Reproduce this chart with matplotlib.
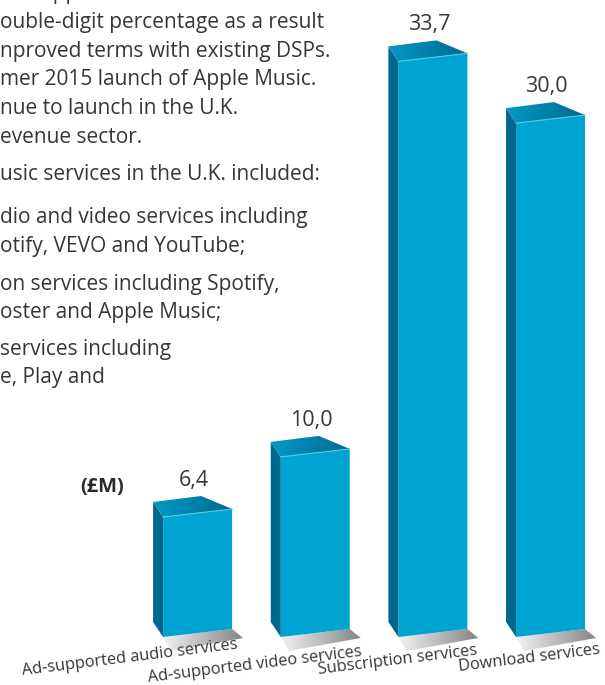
import math
import numpy as np
import matplotlib
matplotlib.use("Agg")
import matplotlib.pyplot as plt
from matplotlib.patches import Polygon
from matplotlib.transforms import Affine2D

categories = ["Ad-supported audio services", "Ad-supported video services",
              "Subscription services", "Download services"]
values = [6.4, 10.0, 33.7, 30.0]
value_labels = ["6,4", "10,0", "33,7", "30,0"]
unit_label = "(£M)"

text_lines = [
    "ouble-digit percentage as a result",
    "nproved terms with existing DSPs.",
    "mer 2015 launch of Apple Music.",
    "nue to launch in the U.K.",
    "evenue sector.",
    "usic services in the U.K. included:",
    "dio and video services including",
    "otify, VEVO and YouTube;",
    "on services including Spotify,",
    "oster and Apple Music;",
    "services including",
    "e, Play and",
]
line_baselines = [28, 57, 85, 114, 143, 180, 223, 252, 290, 318, 355, 383]

W, H = 605, 685
FONT = ["Open Sans", "DejaVu Sans"]
TXT = "#363636"
FRONT = "#00a4d1"
SIDE = "#00688c"
TOP_L = "#0098c6"
TOP_R = "#006b8f"

# pixel scale of the chart area
PX_X = 117.65          # pixels per category step
PX_Y = 16.69           # pixels per £M
X0 = 197.6             # pixel of first bar centre
FLOOR = -0.79          # floor level of the bars (perspective base)
BASE_PX = 48           # floor pixel from bottom of figure
BAR_W = 69 / PX_X
K = 0.116 * PX_X / PX_Y  # front face slope in data units

fig = plt.figure(figsize=(W / 100, H / 100), dpi=100)
ax = fig.add_axes([0, 0, 1, 1])
ax.axis("off")
xlim = (-X0 / PX_X, (W - X0) / PX_X)
y0 = FLOOR - BASE_PX / PX_Y
ylim = (y0, y0 + H / PX_Y)


def px(dx, dy):
    return dx / PX_X, dy / PX_Y


def gradient_fill(poly, c1, c2, z):
    xs = [p[0] for p in poly]
    ys = [p[1] for p in poly]
    cmap = matplotlib.colors.LinearSegmentedColormap.from_list("g", [c1, c2])
    grad = np.linspace(0, 1, 64).reshape(1, -1)
    im = ax.imshow(grad, cmap=cmap, extent=(min(xs), max(xs), min(ys), max(ys)),
                   aspect="auto", zorder=z, interpolation="bilinear")
    patch = Polygon(poly, closed=True, facecolor="none", edgecolor="none")
    ax.add_patch(patch)
    im.set_clip_path(patch)


x = np.arange(len(values))
bars = ax.bar(x, [v - FLOOR for v in values], BAR_W, bottom=FLOOR,
              color=FRONT, linewidth=0, zorder=3)

for xi, v, bar, lab in zip(x, values, bars, value_labels):
    xl = bar.get_x()
    xr = xl + BAR_W
    tilt = Affine2D().translate(-xl, 0).skew(0, math.atan(K)).translate(xl, 0)
    bar.set_transform(tilt + ax.transData)

    fl_b = (xl, FLOOR)
    fr_b = (xr, FLOOR + K * BAR_W)
    fl_t = (xl, v)
    fr_t = (xr, v + K * BAR_W)
    bl = px(-10, 15)
    br = px(-31, 13)

    side = [fl_t, (fl_t[0] + bl[0], fl_t[1] + bl[1]),
            (fl_b[0] + bl[0], fl_b[1] + bl[1]), fl_b]
    ax.add_patch(Polygon(side, closed=True, facecolor=SIDE, edgecolor="none", zorder=3))

    top = [fl_t, fr_t, (fr_t[0] + br[0], fr_t[1] + br[1]),
           (fl_t[0] + bl[0], fl_t[1] + bl[1])]
    gradient_fill(top, TOP_L, TOP_R, 4)
    ax.plot([fl_t[0], fr_t[0]], [fl_t[1], fr_t[1]], color="#5cc6e6", lw=0.8, zorder=5)

    sl = px(8, -14)
    sr = px(11, -9)
    shadow = [fl_b, fr_b, (fr_b[0] + sr[0], fr_b[1] + sr[1]),
              (fl_b[0] + sl[0], fl_b[1] + sl[1])]
    gradient_fill(shadow, "#f2f2f2", "#858585", 2)

    ax.annotate(lab, xy=((xl + xr) / 2, v), xytext=(-4, 31),
                textcoords="offset pixels", ha="center", va="baseline",
                fontsize=15.5, color=TXT, family=FONT)

label_dx = [6, 13, 10, 15]
label_dy = [-20, -27, -25, -25]
for bar, cat, dx, dy in zip(bars, categories, label_dx, label_dy):
    xr = bar.get_x() + BAR_W
    ax.annotate(cat, xy=(xr, FLOOR + K * BAR_W), xytext=(dx, dy),
                textcoords="offset pixels", ha="right", va="baseline",
                rotation=7, rotation_mode="anchor",
                fontsize=11.8, color=TXT, family=FONT)

ax.set_xlim(*xlim)
ax.set_ylim(*ylim)

# paragraph text on the left (cut off at the page edge)
fig.text(40 / W, 1 - (-1) / H, "upp", fontsize=15, color=TXT, family=FONT,
         va="baseline", ha="left")
for line, yb in zip(text_lines, line_baselines):
    fig.text(0, 1 - yb / H, line, fontsize=15, color=TXT, family=FONT,
             va="baseline", ha="left")

fig.text(80 / W, 1 - 492 / H, unit_label, fontsize=14.5, fontweight="bold",
         color="#2b2b2b", family=FONT, va="baseline", ha="left")

fig.savefig("out.png", dpi=100)
